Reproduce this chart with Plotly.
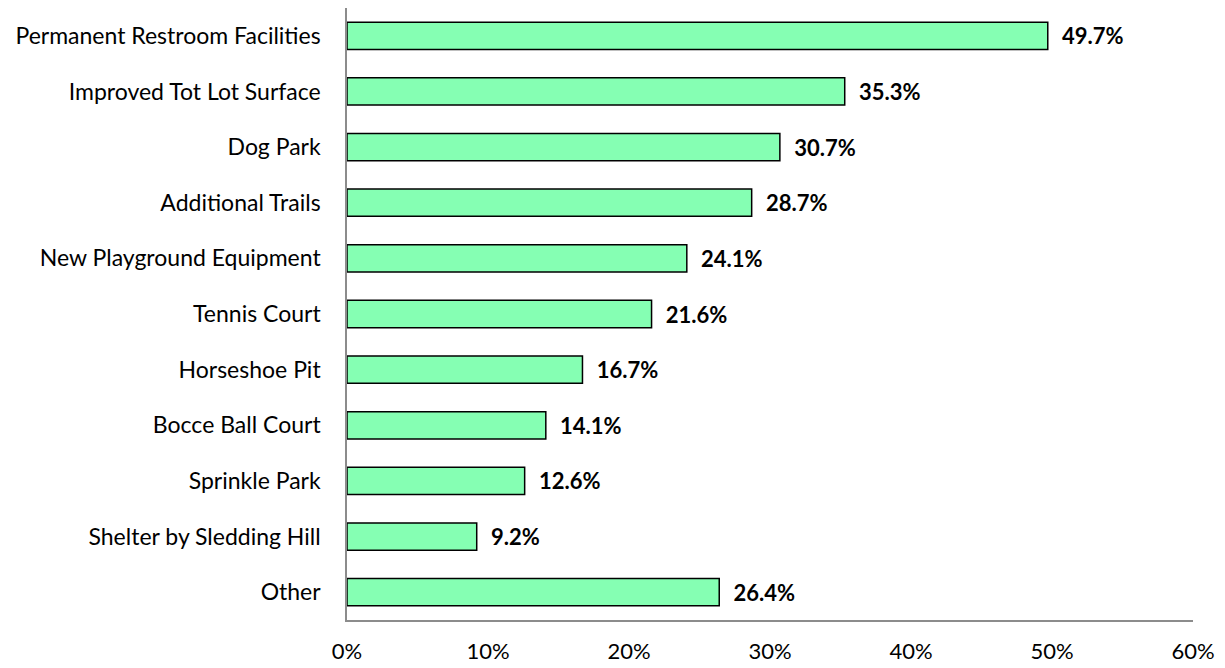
import plotly.graph_objects as go

# Amenity preferences (percent of respondents)
categories = [
    "Permanent Restroom Facilities",
    "Improved Tot Lot Surface",
    "Dog Park",
    "Additional Trails",
    "New Playground Equipment",
    "Tennis Court",
    "Horseshoe Pit",
    "Bocce Ball Court",
    "Sprinkle Park",
    "Shelter by Sledding Hill",
    "Other",
]
values = [49.7, 35.3, 30.7, 28.7, 24.1, 21.6, 16.7, 14.1, 12.6, 9.2, 26.4]
x_ticks = [0, 10, 20, 30, 40, 50, 60]
x_tick_labels = ["0%", "10%", "20%", "30%", "40%", "50%", "60%"]

FONT = "Lato"

fig = go.Figure(
    go.Bar(
        y=categories,
        x=values,
        orientation="h",
        width=0.49,
        marker=dict(color="#85FFB3", line=dict(color="#000000", width=1.5)),
        text=[f"<b>{v:.1f}%</b>" for v in values],
        texttemplate="  %{text}",
        textposition="outside",
        textfont=dict(family=FONT, size=22, color="#000000"),
        cliponaxis=False,
    )
)

fig.update_layout(
    width=1225,
    height=668,
    margin=dict(l=347, r=32, t=8, b=48),
    paper_bgcolor="white",
    plot_bgcolor="white",
    showlegend=False,
    font=dict(family=FONT, size=22, color="#000000"),
    bargap=0.51,
)

fig.update_xaxes(
    range=[0, 60],
    tickvals=x_ticks,
    ticktext=x_tick_labels,
    showgrid=False,
    zeroline=False,
    showline=True,
    linecolor="#8C8C8C",
    linewidth=1.5,
    ticks="outside",
    ticklen=11,
    tickcolor="rgba(0,0,0,0)",
    tickfont=dict(family=FONT, size=22),
    automargin=False,
)

fig.update_yaxes(
    categoryorder="array",
    categoryarray=categories[::-1],
    showgrid=False,
    zeroline=False,
    showline=True,
    linecolor="#8C8C8C",
    linewidth=1.5,
    ticks="outside",
    ticklen=20,
    tickcolor="rgba(0,0,0,0)",
    tickfont=dict(family=FONT, size=23),
    automargin=False,
)

fig.write_html("out.html")
